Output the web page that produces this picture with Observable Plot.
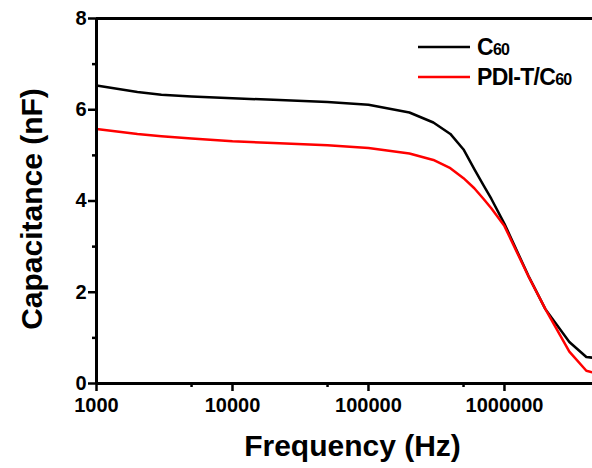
<!DOCTYPE html>
<html>
<head>
<meta charset="utf-8">
<script src="https://cdn.jsdelivr.net/npm/d3@7"></script>
<script src="https://cdn.jsdelivr.net/npm/@observablehq/plot@0.6"></script>
<style>
  html, body { margin: 0; padding: 0; background: #fff; overflow: hidden; }
  #chart { position: relative; width: 592px; height: 468px; }
</style>
</head>
<body>
<div id="chart"></div>
<script>
// Data
const frequency = [1000, 2000, 3000, 5000, 10000, 20000, 50000, 100000, 200000, 300000, 400000, 500000, 600000, 700000, 800000, 1000000, 1500000, 2000000, 3000000, 4000000, 5000000];
const c60 =      [6.53, 6.39, 6.33, 6.29, 6.25, 6.22, 6.17, 6.11, 5.94, 5.72, 5.47, 5.13, 4.70, 4.35, 4.05, 3.50, 2.36, 1.63, 0.91, 0.58, 0.55];
const pdiT_c60 = [5.58, 5.47, 5.42, 5.37, 5.31, 5.27, 5.22, 5.16, 5.04, 4.90, 4.72, 4.50, 4.28, 4.05, 3.84, 3.45, 2.35, 1.63, 0.70, 0.28, 0.20];
const seriesNames = ["C60", "PDI-T/C60"];
const seriesColors = ["#000000", "#ff0000"];

const xMajorTicks = [1000, 10000, 100000, 1000000];
const xMinorTicks = [5000, 50000, 500000];
const yMajorTicks = [0, 2, 4, 6, 8];
const yMinorTicks = [1, 3, 5, 7];
const xTitle = "Frequency (Hz)";
const yTitle = "Capacitance (nF)";

const rows = [];
frequency.forEach((f, i) => {
  rows.push({f, v: c60[i], s: seriesNames[0]});
  rows.push({f, v: pdiT_c60[i], s: seriesNames[1]});
});

const bold = {fontSize: 20, fontWeight: "bold"};

const plot = Plot.plot({
  width: 592,
  height: 468,
  marginLeft: 96,
  marginRight: 0,
  marginTop: 18,
  marginBottom: 85,
  style: {fontFamily: "'Liberation Sans', Arial, sans-serif", fontWeight: "bold", background: "#fff", color: "#000", overflow: "visible"},
  x: {type: "log", domain: [1000, 4.44e6]},
  y: {domain: [0, 8]},
  color: {domain: seriesNames, range: seriesColors},
  marks: [
    Plot.line(rows.filter(d => d.s === seriesNames[0]), {x: "f", y: "v", stroke: seriesColors[0], strokeWidth: 2.5, clip: true}),
    Plot.line(rows.filter(d => d.s === seriesNames[1]), {x: "f", y: "v", stroke: seriesColors[1], strokeWidth: 2.5, clip: true}),
    Plot.axisX(xMajorTicks, {tickSize: 8, tickPadding: 6, strokeWidth: 2.5, tickFormat: d => String(d), label: null, ...bold}),
    Plot.axisX(xMinorTicks, {tickSize: 4, strokeWidth: 2.5, text: null, label: null}),
    Plot.axisY(yMajorTicks, {tickSize: 8, tickPadding: 2, strokeWidth: 2.5, label: null, ...bold}),
    Plot.axisY(yMinorTicks, {tickSize: 4, strokeWidth: 2.5, text: null, label: null}),
    Plot.ruleY([0], {strokeWidth: 3}),
    Plot.ruleY([8], {strokeWidth: 3}),
    Plot.ruleX([1000], {strokeWidth: 3}),
    Plot.text([xTitle], {frameAnchor: "bottom", textAnchor: "middle", dx: 8, dy: 72, fontSize: 30, fontWeight: "bold", fill: "#000"}),
    Plot.text([yTitle], {frameAnchor: "left", textAnchor: "middle", rotate: -90, dx: -64, dy: 8, fontSize: 30, fontWeight: "bold", fill: "#000"})
  ]
});

// Legend drawn into the same SVG
const svg = d3.select(plot);
const legend = svg.append("g")
  .attr("font-family", "'Liberation Sans', Arial, sans-serif")
  .attr("font-weight", "bold")
  .attr("text-anchor", "start");
const legendItems = [
  {name: "C", sub: "60", color: seriesColors[0]},
  {name: "PDI-T/C", sub: "60", color: seriesColors[1]}
];
legendItems.forEach((item, i) => {
  const y = 47 + i * 30;
  legend.append("line").attr("x1", 418).attr("x2", 470).attr("y1", y).attr("y2", y)
    .attr("stroke", item.color).attr("stroke-width", 2.5);
  const t = legend.append("text").attr("x", 477).attr("y", y + 8).attr("font-size", 23)
    .attr("fill", "#000").attr("letter-spacing", -0.7).attr("text-anchor", "start");
  t.append("tspan").text(item.name);
  t.append("tspan").attr("font-size", 16).text(item.sub);
});

document.getElementById("chart").appendChild(plot);
</script>
</body>
</html>
